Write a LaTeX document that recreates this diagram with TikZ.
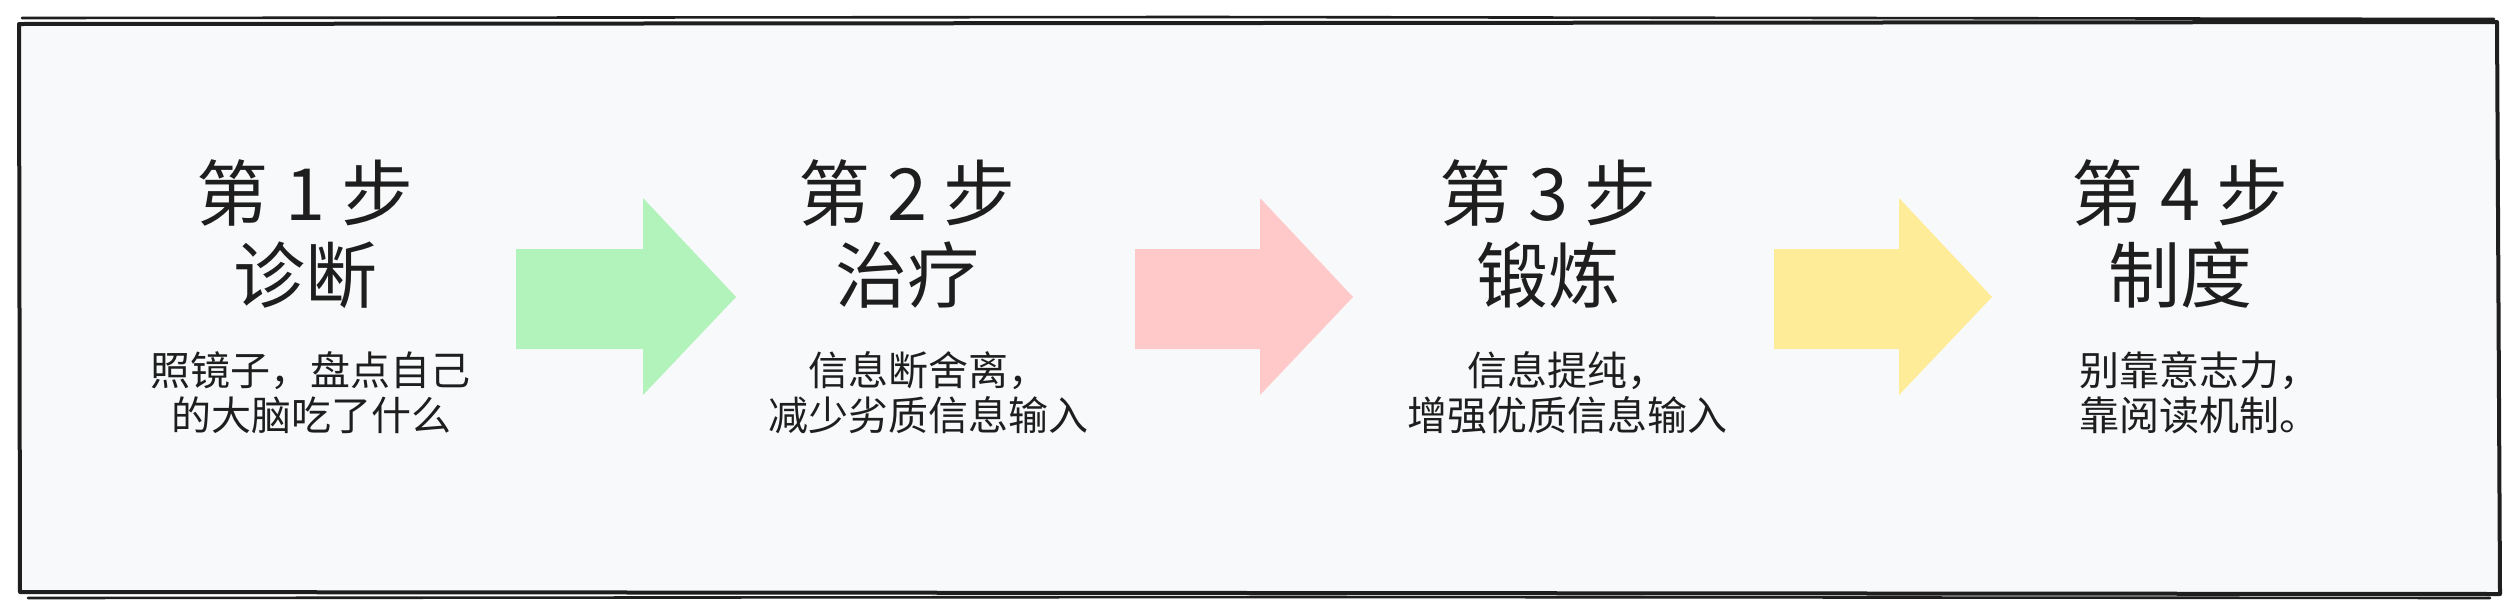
\documentclass[tikz,border=0pt]{standalone}
\usepackage{fontspec}
\setmainfont{Noto Sans CJK SC}
\definecolor{ink}{HTML}{1E1E1E}
\definecolor{panel}{HTML}{F8F9FA}
\definecolor{agreen}{HTML}{B2F2BB}
\definecolor{apink}{HTML}{FFC9C9}
\definecolor{ayellow}{HTML}{FFEC99}
\tikzset{
  steptitle/.style={inner sep=0pt, anchor=base, text=ink, font=\fontsize{72}{80}\selectfont},
  stepname/.style={inner sep=0pt, anchor=base, text=ink, font=\fontsize{72}{80}\selectfont},
  stepdesc/.style={inner sep=0pt, anchor=base, text=ink, font=\fontsize{40}{46}\selectfont},
  sketch/.style={draw=ink, line width=4pt, line join=round, line cap=round},
  sketchthin/.style={draw=ink, line width=2.6pt, line cap=round},
}
\newcommand{\blockarrow}[3]{% tail x, head base x, colour
  \fill[#3] (#1,249) -- (#2,249) -- (#2,198) -- ({#2+93},297) -- (#2,395) -- (#2,349) -- (#1,349) -- cycle;
}
\begin{document}
\begin{tikzpicture}[x=1pt,y=-1pt]
\useasboundingbox (0,0) rectangle (2520,614);
\fill[white] (0,0) rectangle (2520,614);
% panel
\fill[panel] (19,22) rectangle (2499,594);
\draw[sketch] (19,24) -- (2497,22) -- (2500,594) -- (20,592) -- cycle;
\draw[sketchthin] (22,18) -- (1200,17) -- (2494,19);
\draw[sketchthin] (28,598) -- (1300,597) -- (2490,598);
% arrows
\blockarrow{516}{643}{agreen}
\blockarrow{1135}{1260}{apink}
\blockarrow{1774}{1899}{ayellow}
% step 1
\node[steptitle] (t1) at (305,220) {第 1 步};
\node[stepname]  (n1) at (305,302) {诊断};
\node[stepdesc]  (d1a) at (310,385) {照镜子，盘点自己};
\node[stepdesc]  (d1b) at (311,430) {的大脑吃了什么};
% step 2
\node[steptitle] (t2) at (907,220) {第 2 步};
\node[stepname]  (n2) at (907,302) {治疗};
\node[stepdesc]  (d2a) at (928,385) {信息断舍离，};
\node[stepdesc]  (d2b) at (928,430) {减少劣质信息输入};
% step 3
\node[steptitle] (t3) at (1548,220) {第 3 步};
\node[stepname]  (n3) at (1548,302) {锻炼};
\node[stepdesc]  (d3a) at (1567,385) {信息提纯，};
\node[stepdesc]  (d3b) at (1567,430) {增强优质信息输入};
% step 4
\node[steptitle] (t4) at (2180,220) {第 4 步};
\node[stepname]  (n4) at (2180,302) {制度};
\node[stepdesc]  (d4a) at (2199,385) {别靠意志力，};
\node[stepdesc]  (d4b) at (2199,430) {靠阅读机制。};
\end{tikzpicture}
\end{document}
